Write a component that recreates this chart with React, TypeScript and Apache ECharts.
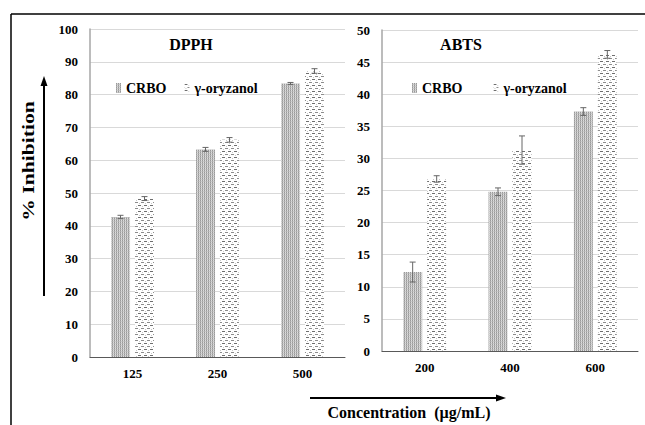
import React, { useEffect, useRef } from "react";
import * as echarts from "echarts";

const dpphCategories = ["125", "250", "500"];
const dpphCRBO = [42.7, 63.3, 83.4];
const dpphCRBOErr = [0.5, 0.6, 0.3];
const dpphOryzanol = [48.3, 66.2, 87.2];
const dpphOryzanolErr = [0.6, 0.7, 0.7];

const abtsCategories = ["200", "400", "600"];
const abtsCRBO = [12.3, 24.8, 37.3];
const abtsCRBOErr = [1.55, 0.6, 0.6];
const abtsOryzanol = [26.8, 31.3, 46.2];
const abtsOryzanolErr = [0.5, 2.2, 0.6];

const seriesNames = ["CRBO", "γ-oryzanol"];

const FAMILY = "Liberation Serif";

function makePattern(w: number, h: number, draw: (ctx: CanvasRenderingContext2D) => void) {
  const c = document.createElement("canvas");
  c.width = w;
  c.height = h;
  const ctx = c.getContext("2d") as CanvasRenderingContext2D;
  draw(ctx);
  return { image: c, repeat: "repeat", imageWidth: w, imageHeight: h } as any;
}

export default function App() {
  const ref = useRef<HTMLDivElement>(null);

  useEffect(() => {
    if (!ref.current) return;
    const chart = echarts.init(ref.current, null, { renderer: "svg" });

    const crboPattern = makePattern(2, 2, (ctx) => {
      ctx.fillStyle = "#dedede";
      ctx.fillRect(0, 0, 2, 2);
      ctx.fillStyle = "#999999";
      ctx.fillRect(0, 0, 1, 1);
      ctx.fillStyle = "#b0b0b0";
      ctx.fillRect(0, 1, 1, 1);
      ctx.fillStyle = "#c8c8c8";
      ctx.fillRect(1, 1, 1, 1);
    });
    const oryPattern = makePattern(6, 6, (ctx) => {
      ctx.fillStyle = "#ffffff";
      ctx.fillRect(0, 0, 6, 6);
      ctx.fillStyle = "#6e6e6e";
      ctx.fillRect(0, 1, 3, 1);
      ctx.fillStyle = "#8c8c8c";
      ctx.fillRect(3, 4, 3, 1);
      ctx.fillStyle = "#c8c8c8";
      ctx.fillRect(4, 2, 1, 1);
      ctx.fillRect(1, 5, 1, 1);
    });

    const BAR_W = 19;
    const OFF = 12;

    const errSeries = (axis: number, vals: number[], errs: number[], offset: number) => ({
      type: "custom",
      xAxisIndex: axis,
      yAxisIndex: axis,
      silent: true,
      z: 10,
      data: vals.map((v, i) => [i, v, errs[i]]),
      encode: { x: 0, y: 1 },
      renderItem: (params: any, api: any) => {
        const i = api.value(0);
        const v = api.value(1);
        const e = api.value(2);
        const top = api.coord([i, v + e]);
        const bot = api.coord([i, v - e]);
        const x = top[0] + offset;
        const st = { stroke: "#666", lineWidth: 1 };
        return {
          type: "group",
          children: [
            { type: "line", shape: { x1: x, y1: top[1], x2: x, y2: bot[1] }, style: st },
            { type: "line", shape: { x1: x - 3, y1: top[1], x2: x + 3, y2: top[1] }, style: st },
            { type: "line", shape: { x1: x - 3, y1: bot[1], x2: x + 3, y2: bot[1] }, style: st },
          ],
        };
      },
    });

    const axisLabel = { color: "#000", fontFamily: FAMILY, fontWeight: "bold", fontSize: 13 };

    const legendBase = {
      data: seriesNames,
      itemWidth: 5,
      itemHeight: 10,
      icon: "rect",
      padding: 0,
      textStyle: { color: "#000", fontFamily: FAMILY, fontWeight: "bold", fontSize: 14 },
      selectedMode: false,
    };

    const option: any = {
      animation: false,
      backgroundColor: "#fff",
      textStyle: { fontFamily: FAMILY },
      legend: [
        { ...legendBase, left: 116, top: 81, itemGap: 18 },
        { ...legendBase, left: 412, top: 81, itemGap: 31 },
      ],
      grid: [
        { left: 90, top: 29, width: 255, height: 328 },
        { left: 382, top: 30, width: 256, height: 321 },
      ],
      xAxis: [
        {
          type: "category",
          gridIndex: 0,
          data: dpphCategories,
          axisLine: { lineStyle: { color: "#595959", width: 1 } },
          axisTick: { show: false },
          axisLabel: { ...axisLabel, margin: 10 },
        },
        {
          type: "category",
          gridIndex: 1,
          data: abtsCategories,
          axisLine: { lineStyle: { color: "#595959", width: 1 } },
          axisTick: { show: false },
          axisLabel: { ...axisLabel, margin: 10 },
        },
      ],
      yAxis: [
        {
          type: "value",
          gridIndex: 0,
          min: 0,
          max: 100,
          interval: 10,
          axisLine: { show: true, lineStyle: { color: "#a6a6a6", width: 1.5 } },
          axisTick: { show: false },
          axisLabel: { ...axisLabel, margin: 12 },
          splitLine: { lineStyle: { color: "#d9d9d9" } },
        },
        {
          type: "value",
          gridIndex: 1,
          min: 0,
          max: 50,
          interval: 5,
          axisLine: { show: true, lineStyle: { color: "#a6a6a6", width: 1.5 } },
          axisTick: { show: false },
          axisLabel: { ...axisLabel, margin: 12 },
          splitLine: { lineStyle: { color: "#d9d9d9" } },
        },
      ],
      series: [
        {
          name: "CRBO",
          type: "bar",
          xAxisIndex: 0,
          yAxisIndex: 0,
          data: dpphCRBO,
          barWidth: BAR_W,
          barGap: "26%",
          itemStyle: { color: crboPattern },
        },
        {
          name: "γ-oryzanol",
          type: "bar",
          xAxisIndex: 0,
          yAxisIndex: 0,
          data: dpphOryzanol,
          barWidth: BAR_W,
          barGap: "26%",
          itemStyle: { color: oryPattern },
        },
        {
          name: "CRBO",
          type: "bar",
          xAxisIndex: 1,
          yAxisIndex: 1,
          data: abtsCRBO,
          barWidth: BAR_W,
          barGap: "26%",
          itemStyle: { color: crboPattern },
        },
        {
          name: "γ-oryzanol",
          type: "bar",
          xAxisIndex: 1,
          yAxisIndex: 1,
          data: abtsOryzanol,
          barWidth: BAR_W,
          barGap: "26%",
          itemStyle: { color: oryPattern },
        },
        errSeries(0, dpphCRBO, dpphCRBOErr, -OFF),
        errSeries(0, dpphOryzanol, dpphOryzanolErr, OFF),
        errSeries(1, abtsCRBO, abtsCRBOErr, -OFF),
        errSeries(1, abtsOryzanol, abtsOryzanolErr, OFF),
      ],
      graphic: [
        // outer frame
        { type: "line", shape: { x1: 11, y1: 14, x2: 645, y2: 14 }, style: { stroke: "#000", lineWidth: 1.5 } },
        { type: "line", shape: { x1: 11, y1: 14, x2: 11, y2: 425 }, style: { stroke: "#000", lineWidth: 1.5 } },
        // titles
        {
          type: "text",
          x: 191,
          y: 44,
          style: { text: "DPPH", fill: "#000", fontFamily: FAMILY, fontWeight: "bold", fontSize: 16, align: "center", verticalAlign: "middle" },
        },
        {
          type: "text",
          x: 461,
          y: 44,
          style: { text: "ABTS", fill: "#000", fontFamily: FAMILY, fontWeight: "bold", fontSize: 16, align: "center", verticalAlign: "middle" },
        },
        // y axis name
        {
          type: "text",
          x: 29,
          y: 161,
          rotation: Math.PI / 2,
          scaleX: 1.35,
          style: {
            text: "% Inhibition",
            fill: "#000",
            fontFamily: FAMILY,
            fontWeight: "bold",
            fontSize: 16,
            align: "center",
            verticalAlign: "middle",
          },
        },
        // vertical arrow
        { type: "line", shape: { x1: 44, y1: 296, x2: 44, y2: 84 }, style: { stroke: "#000", lineWidth: 2 } },
        { type: "polygon", shape: { points: [[44, 76], [40.5, 86], [47.5, 86]] }, style: { fill: "#000" } },
        // horizontal arrow
        { type: "line", shape: { x1: 310, y1: 398, x2: 498, y2: 398 }, style: { stroke: "#000", lineWidth: 2 } },
        { type: "polygon", shape: { points: [[506, 398], [496, 394.5], [496, 401.5]] }, style: { fill: "#000" } },
        {
          type: "text",
          x: 409,
          y: 412,
          style: {
            text: "Concentration  (µg/mL)",
            fill: "#000",
            fontFamily: FAMILY,
            fontWeight: "bold",
            fontSize: 16,
            align: "center",
            verticalAlign: "middle",
          },
        },
      ],
    };

    chart.setOption(option);
    return () => chart.dispose();
  }, []);

  return (
    <div
      ref={ref}
      style={{ position: "fixed", left: 0, top: 0, width: 645, height: 425, background: "#fff" }}
    />
  );
}
